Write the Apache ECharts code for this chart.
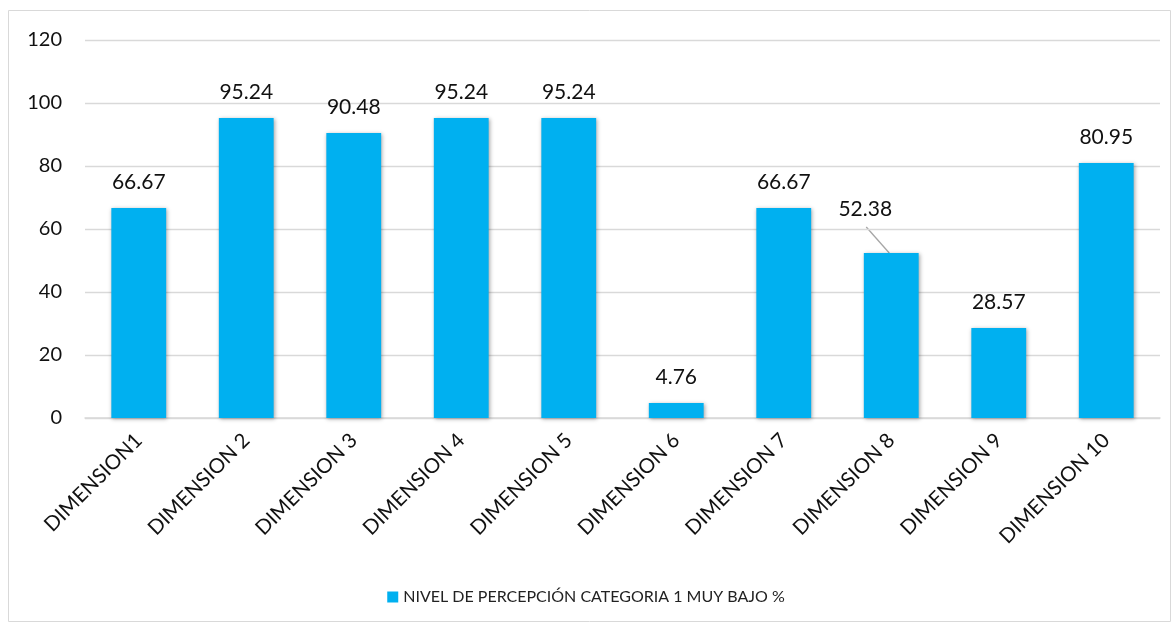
<!DOCTYPE html>
<html><head><meta charset="utf-8">
<script src="https://cdn.jsdelivr.net/npm/echarts@6/dist/echarts.min.js"></script>
<style>html,body{margin:0;padding:0;background:#fff}#c{width:1172px;height:623px}</style>
</head><body><div id="c"></div>
<script>
const categories = ['DIMENSION1','DIMENSION 2','DIMENSION 3','DIMENSION 4','DIMENSION 5','DIMENSION 6','DIMENSION 7','DIMENSION 8','DIMENSION 9','DIMENSION 10'];
const values = [66.67, 95.24, 90.48, 95.24, 95.24, 4.76, 66.67, 52.38, 28.57, 80.95];
const seriesName = 'NIVEL DE PERCEPCIÓN CATEGORIA 1 MUY BAJO %';
const yTicks = [0, 20, 40, 60, 80, 100, 120];
const movedLabel = 7;
const FONT = 'Lato';
const LABEL_DX = -26, LABEL_DY = -18;
const chart = echarts.init(document.getElementById('c'));
chart.setOption({
  animation: false,
  textStyle: {fontFamily: FONT},
  graphic: [{id:'frame', type:'rect', shape:{x:8.5,y:10.5,width:1162,height:611}, style:{fill:'none', stroke:'#d9d9d9', lineWidth:1}, silent:true}],
  grid: {left: 85, right: 12, top: 40, bottom: 205},
  legend: {
    bottom: 13, left: 'center', itemWidth: 11, itemHeight: 11, icon: 'rect', itemGap: 4,
    textStyle: {fontSize: 16, color: '#222', fontFamily: FONT},
    data: [seriesName]
  },
  xAxis: {
    type: 'category', data: categories,
    axisLine: {lineStyle: {color: '#d9d9d9', width: 1.5}},
    axisTick: {show: false},
    axisLabel: {rotate: 45, fontSize: 20.5, color: '#111', margin: 19, interval: 0, fontFamily: FONT}
  },
  yAxis: {
    type: 'value', min: yTicks[0], max: yTicks[yTicks.length-1], interval: 20,
    axisLine: {show: false}, axisTick: {show: false},
    axisLabel: {fontSize: 20, color: '#111', margin: 23, fontFamily: FONT},
    splitLine: {lineStyle: {color: '#d9d9d9', width: 1.3}}
  },
  series: [{
    name: seriesName, type: 'bar', data: values, barWidth: '51%',
    itemStyle: {color: '#00B0F0', shadowBlur: 4, shadowColor: 'rgba(0,0,0,0.35)', shadowOffsetX: 1, shadowOffsetY: 1},
    label: {show: true, position: 'top', distance: 15, fontSize: 21, color: '#111', fontFamily: FONT},
    labelLayout: function (p) {
      if (p.dataIndex === movedLabel) return {dx: LABEL_DX, dy: LABEL_DY};
      return {};
    }
  }]
});
// leader line from moved label to top of its bar, derived from the axis scales
const barTop = chart.convertToPixel({seriesIndex: 0}, [movedLabel, values[movedLabel]]);
chart.setOption({
  graphic: [{id:'leader', type:'line', silent:true,
    shape:{x1: barTop[0] + LABEL_DX + 1, y1: barTop[1] - 26, x2: barTop[0] - 2, y2: barTop[1]},
    style:{stroke:'#a6a6a6', lineWidth:1.3}}]
});
</script></body></html>
